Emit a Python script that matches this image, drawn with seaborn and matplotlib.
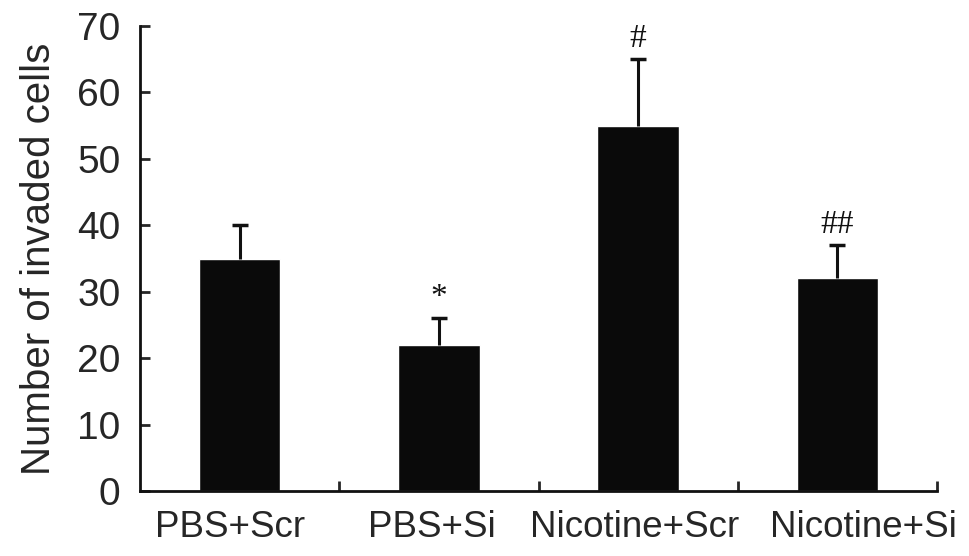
import numpy as np
import pandas as pd
import matplotlib
matplotlib.use("Agg")
import matplotlib.pyplot as plt
import matplotlib.transforms as mtransforms
import seaborn as sns
from matplotlib.ticker import FixedLocator

# Datos
groups = ["PBS+Scr", "PBS+Si", "Nicotine+Scr", "Nicotine+Si"]
means = [35, 22, 55, 32]
errors = [5, 4, 10, 5]
marks = ["", "*", "#", "##"]

sns.set_theme(style="ticks")
plt.rcParams["font.family"] = ["Liberation Sans", "DejaVu Sans"]

df = pd.DataFrame({"group": groups, "cells": means})

fig = plt.figure(figsize=(9.69, 5.56), dpi=100)
ax = fig.add_axes([0.1445, 0.1169, 0.8225, 0.8363])

sns.barplot(data=df, x="group", y="cells", color="#0a0a0a", width=0.41,
            errorbar=None, saturation=1, ax=ax)
eb = ax.errorbar(np.arange(len(groups)), means, yerr=[np.zeros(len(errors)), errors],
                 fmt="none", ecolor="#111111", elinewidth=2.2, capsize=6, capthick=2.5)
# solo la tapa superior
eb[1][0].set_visible(False)

for i, (m, e, s) in enumerate(zip(means, errors, marks)):
    if s:
        ax.text(i, m + e + 0.8, s, ha="center", va="bottom", fontsize=24,
                family=["Liberation Serif", "DejaVu Serif"], color="#111111")

ax.set_xlim(-0.5, 3.5)
ax.set_ylim(0, 70)
ax.set_yticks(range(0, 71, 10))
ax.set_xlabel("")
ax.set_ylabel("Number of invaded cells", fontsize=29, labelpad=14)

ax.tick_params(axis="y", direction="in", length=7, width=2, labelsize=28, pad=14)
ax.tick_params(axis="x", which="major", length=0, labelsize=26.5, pad=14)
ax.xaxis.set_minor_locator(FixedLocator([0.5, 1.5, 2.5, 3.5]))
ax.tick_params(axis="x", which="minor", direction="in", length=7, width=2)

# en el original las etiquetas no están centradas del todo
shifts = [-10, -7, -4, 26]
for lab, dx in zip(ax.get_xticklabels(), shifts):
    lab.set_transform(lab.get_transform() +
                      mtransforms.ScaledTranslation(dx / 100, 0, fig.dpi_scale_trans))

sns.despine(ax=ax)
for sp in ["left", "bottom"]:
    ax.spines[sp].set_linewidth(2)
    ax.spines[sp].set_color("#111111")

plt.savefig("out.png", dpi=100)
plt.close()
